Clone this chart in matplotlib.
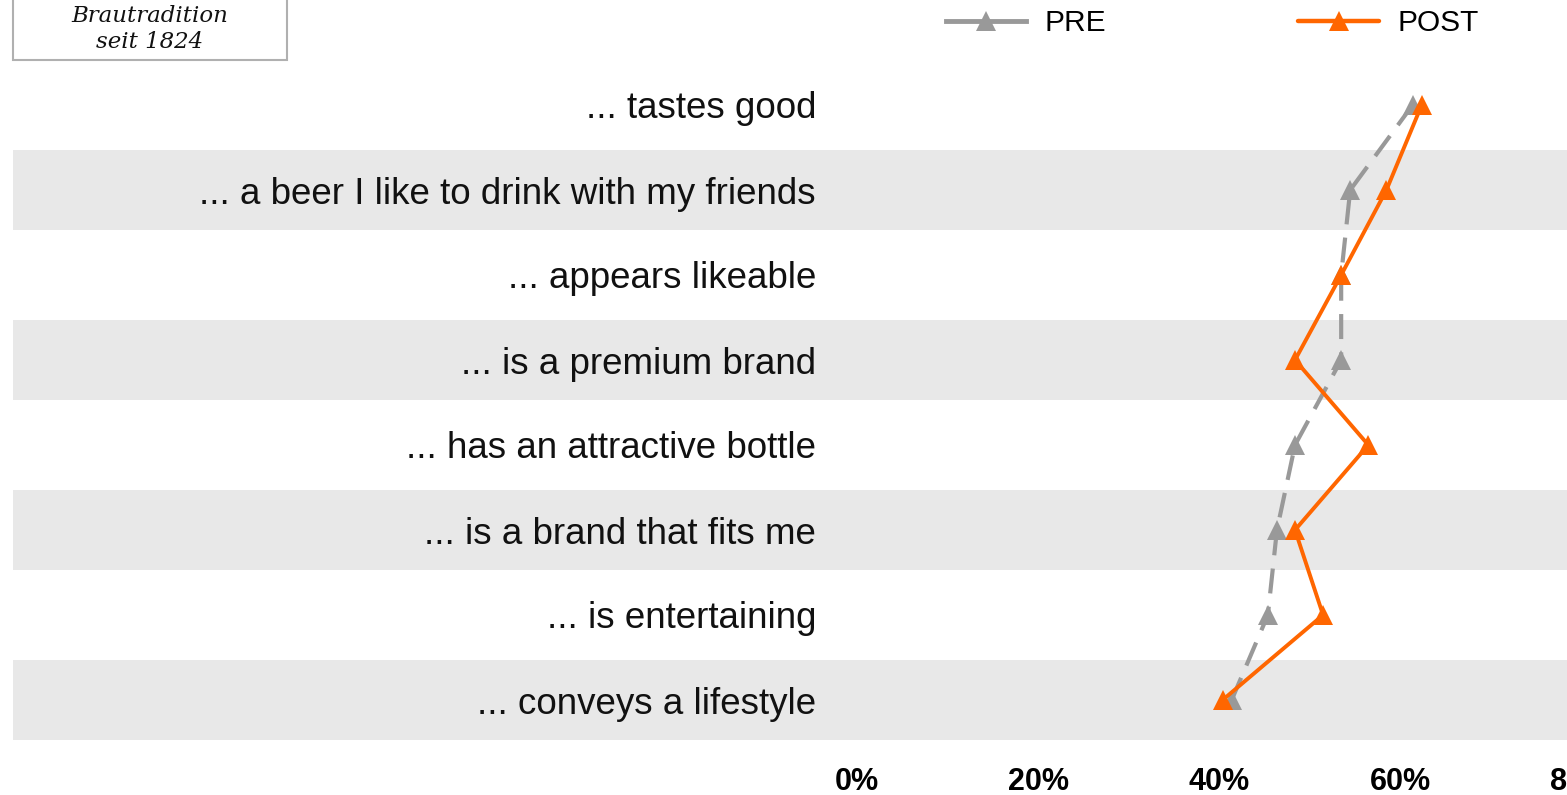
import matplotlib
matplotlib.use("Agg")
import matplotlib.pyplot as plt
from matplotlib.lines import Line2D
from matplotlib.patches import Rectangle
import matplotlib.transforms as mtransforms

plt.rcParams['font.family'] = ['Liberation Sans', 'DejaVu Sans']

statements = [
    "... tastes good",
    "... a beer I like to drink with my friends",
    "... appears likeable",
    "... is a premium brand",
    "... has an attractive bottle",
    "... is a brand that fits me",
    "... is entertaining",
    "... conveys a lifestyle",
]
pre_values = [61.4, 54.5, 53.5, 53.5, 48.4, 46.4, 45.4, 41.4]
post_values = [62.4, 58.5, 53.5, 48.4, 56.5, 48.4, 51.5, 40.4]
x_ticks = [0, 20, 40, 60, 80]
x_tick_labels = ["0%", "20%", "40%", "60%", "80%"]

W, H, DPI = 1567, 795, 100
fig = plt.figure(figsize=(W / DPI, H / DPI), dpi=DPI)

# axes geometry in pixels
ax_left, ax_right = 13, 1620
ax_top, ax_bottom = 62, 745
ax = fig.add_axes([ax_left / W, 1 - ax_bottom / H,
                   (ax_right - ax_left) / W, (ax_bottom - ax_top) / H])

px_per_pct = 181 / 20.0
x0_px = 857
ax.set_xlim((ax_left - x0_px) / px_per_pct, (ax_right - x0_px) / px_per_pct)
row_px = 85.0
y0_px = 105
ax.set_ylim((ax_bottom - y0_px) / row_px, (ax_top - y0_px) / row_px)

for s in ax.spines.values():
    s.set_visible(False)

n = len(statements)
ypos = list(range(n))

# alternating grey bands
for i in ypos:
    if i % 2 == 1:
        ax.axhspan(i - 0.476, i + 0.476, color="#e8e8e8", lw=0, zorder=0)

ax.plot(pre_values, ypos, color="#999999", lw=3.0, ls=(0, (6, 3.2)),
        marker="^", markersize=15, markeredgewidth=0, zorder=3)
ax.plot(post_values, ypos, color="#ff6600", lw=2.8,
        marker="^", markersize=15, markeredgewidth=0, zorder=4)

# statement labels, right-aligned left of the 0% position
lab_tr = mtransforms.offset_copy(ax.transData, fig=fig, x=-41, y=-4, units="dots")
for i, s in enumerate(statements):
    ax.text(0, i, s, transform=lab_tr, ha="right", va="center",
            fontsize=26.5, color="#111111")

ax.set_yticks([])
ax.set_xticks(x_ticks)
ax.set_xticklabels(x_tick_labels)
ax.tick_params(axis="x", length=0, pad=16)
for t in ax.get_xticklabels():
    t.set_fontweight("bold")
    t.set_fontsize(22)

# legend
handles = [
    Line2D([], [], color="#999999", lw=3.5, marker="^", markersize=15,
           markeredgewidth=0),
    Line2D([], [], color="#ff6600", lw=3.2, marker="^", markersize=15,
           markeredgewidth=0, solid_capstyle="round"),
]
fig.legend(handles, ["PRE", "POST"], loc="center", ncol=2,
           bbox_to_anchor=(1212 / W, 1 - 23 / H), frameon=False,
           fontsize=21.5, handlelength=2.7, handletextpad=0.6,
           columnspacing=6.45, borderpad=0)

# brand box in the corner
fig.patches.append(Rectangle((13 / W, 1 - 60 / H), (287 - 13) / W, 80 / H,
                             transform=fig.transFigure, facecolor="white",
                             edgecolor="#b0b0b0", lw=1.5))
fig.text(150 / W, 1 - 16 / H, "Brautradition", ha="center", va="center",
         fontsize=16.5, family="DejaVu Serif", style="italic", color="#111111")
fig.text(150 / W, 1 - 42 / H, "seit 1824", ha="center", va="center",
         fontsize=16.5, family="DejaVu Serif", style="italic", color="#111111")

fig.savefig("out.png", dpi=DPI)
